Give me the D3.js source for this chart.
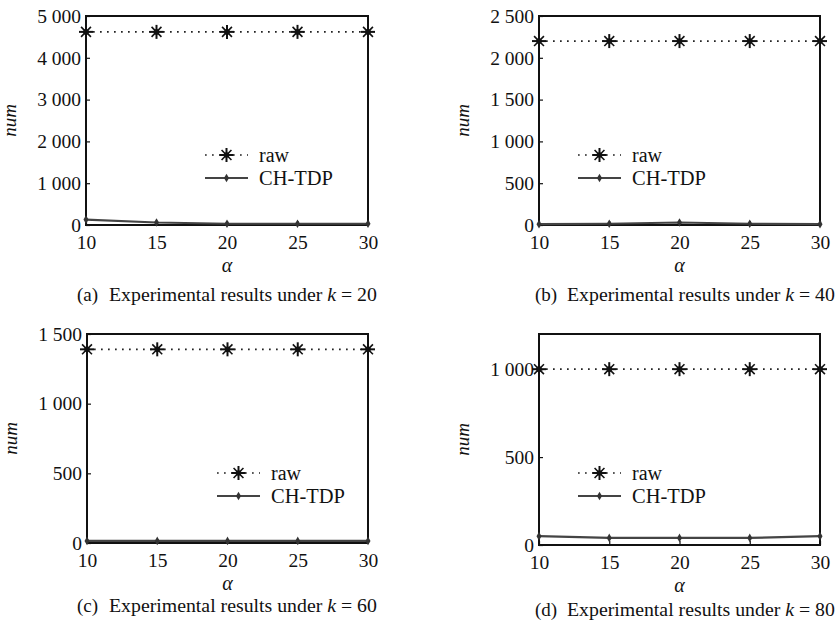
<!DOCTYPE html>
<html><head><meta charset="utf-8">
<script src="https://cdn.jsdelivr.net/npm/d3@7"></script>
<style>
body{margin:0;background:#fff;}
svg{display:block;}
svg text{font-family:"Liberation Serif","Times New Roman","DejaVu Serif",serif !important;fill:#111;}
</style></head>
<body>
<svg id="chart" width="838" height="627"></svg>
<script>
// ---- data ----
const alphas = [10, 15, 20, 25, 30];
const panelLabels = ["(a)", "(b)", "(c)", "(d)"];
const kValues = [20, 40, 60, 80];
const rawValues = [
  [4620, 4620, 4620, 4620, 4620],
  [2200, 2200, 2200, 2200, 2200],
  [1390, 1390, 1390, 1390, 1390],
  [1000, 1000, 1000, 1000, 1000]
];
const chtdpValues = [
  [130, 60, 30, 30, 30],
  [10, 15, 30, 15, 10],
  [15, 15, 15, 15, 15],
  [50, 40, 40, 40, 50]
];
const yMaxes = [5000, 2500, 1500, 1200];
const yTickValues = [
  [0, 1000, 2000, 3000, 4000, 5000],
  [0, 500, 1000, 1500, 2000, 2500],
  [0, 500, 1000, 1500],
  [0, 500, 1000]
];
const xTickValues = [10, 15, 20, 25, 30];
const seriesNames = ["raw", "CH-TDP"];

// ---- layout ----
const frames = [
  {x0: 86, x1: 368, y0: 16, y1: 225, legX: 205, legY: 155, capX: 77, capY: 294},
  {x0: 539, x1: 820, y0: 16, y1: 225, legX: 578, legY: 155, capX: 535, capY: 294},
  {x0: 87, x1: 368, y0: 334, y1: 543, legX: 217, legY: 473, capX: 77, capY: 605},
  {x0: 539, x1: 820, y0: 334, y1: 545, legX: 578, legY: 473, capX: 535, capY: 609}
];
const SERIF = "'Liberation Serif','Times New Roman','DejaVu Serif',serif";

const svg = d3.select("#chart");
const fmt = d => d3.format(",")(d).replace(/,/g, " ");

function star(g, x, y) {
  const r = 7;
  const s = g.append("g").attr("transform", `translate(${x},${y})`);
  [0, 45, 90, 135].forEach(a => {
    const rad = a * Math.PI / 180;
    s.append("line")
      .attr("x1", -r * Math.cos(rad)).attr("y1", -r * Math.sin(rad))
      .attr("x2", r * Math.cos(rad)).attr("y2", r * Math.sin(rad))
      .attr("stroke", "#111").attr("stroke-width", a % 90 === 0 ? 2 : 1.6);
  });
  s.append("circle").attr("r", 2.8).attr("fill", "#111");
}
function diamond(g, x, y) {
  g.append("path")
    .attr("d", d3.symbol(d3.symbolDiamond, 22)())
    .attr("transform", `translate(${x},${y})`)
    .attr("fill", "#333");
}
function fitWidth(sel, target) {
  const fs = parseFloat(sel.style("font-size"));
  const w = sel.node().getComputedTextLength();
  if (w > 0) sel.style("font-size", (fs * target / w) + "px");
}

frames.forEach((f, i) => {
  const g = svg.append("g").attr("font-family", SERIF);
  const x = d3.scaleLinear().domain([10, 30]).range([f.x0, f.x1]);
  const y = d3.scaleLinear().domain([0, yMaxes[i]]).range([f.y1, f.y0]);

  // axes
  const ya = g.append("g").attr("transform", `translate(${f.x0},0)`)
    .call(d3.axisLeft(y).tickValues(yTickValues[i]).tickSize(-4).tickPadding(5).tickFormat(fmt));
  ya.attr("font-family", SERIF);
  ya.select(".domain").remove();
  ya.selectAll("text").style("font-size", "19.5px");
  ya.selectAll("line").attr("stroke", "#111").attr("stroke-width", 1.2);

  const xa = g.append("g").attr("transform", `translate(0,${f.y1})`)
    .call(d3.axisBottom(x).tickValues(xTickValues).tickSize(-4).tickPadding(10));
  xa.attr("font-family", SERIF);
  xa.select(".domain").remove();
  xa.selectAll("text").style("font-size", "19.5px");
  xa.selectAll("line").attr("stroke", "#111").attr("stroke-width", 1.2);

  // frame
  g.append("rect").attr("x", f.x0).attr("y", f.y0)
    .attr("width", f.x1 - f.x0).attr("height", f.y1 - f.y0)
    .attr("fill", "none").attr("stroke", "#111").attr("stroke-width", 2);

  // axis titles
  g.append("text").attr("x", (f.x0 + f.x1) / 2).attr("y", f.y1 + 47)
    .attr("text-anchor", "middle").style("font-size", "20px").style("font-style", "italic")
    .text("α");
  g.append("text")
    .attr("transform", `translate(${f.x0 - 70},${(f.y0 + f.y1) / 2}) rotate(-90)`)
    .attr("text-anchor", "middle").style("font-size", "19px").style("font-style", "italic")
    .text("num");

  // series lines
  const line = d3.line().x((d, j) => x(alphas[j])).y(d => y(d));
  g.append("path").datum(rawValues[i]).attr("d", line)
    .attr("fill", "none").attr("stroke", "#222").attr("stroke-width", 1.7)
    .attr("stroke-dasharray", "1.7,5.3");
  g.append("path").datum(chtdpValues[i]).attr("d", line)
    .attr("fill", "none").attr("stroke", "#444").attr("stroke-width", 2.2);
  rawValues[i].forEach((v, j) => star(g, x(alphas[j]), y(v)));
  chtdpValues[i].forEach((v, j) => diamond(g, x(alphas[j]), y(v)));

  // legend
  const lx0 = f.legX, lx1 = f.legX + 43;
  g.append("line").attr("x1", lx0).attr("x2", lx1).attr("y1", f.legY).attr("y2", f.legY)
    .attr("stroke", "#222").attr("stroke-width", 1.7).attr("stroke-dasharray", "1.7,5.3");
  star(g, (lx0 + lx1) / 2, f.legY);
  g.append("line").attr("x1", lx0).attr("x2", lx1).attr("y1", f.legY + 23).attr("y2", f.legY + 23)
    .attr("stroke", "#444").attr("stroke-width", 2.2);
  diamond(g, (lx0 + lx1) / 2, f.legY + 23);
  seriesNames.forEach((n, j) => {
    const t = g.append("text").attr("x", lx1 + 11).attr("y", f.legY + 23 * j)
      .attr("dy", "0.35em").style("font-size", "20px").text(n);
    if (j === 1) fitWidth(t, 74);
  });

  // caption
  g.append("text").attr("x", f.capX).attr("y", f.capY).attr("dy", "0.35em")
    .style("font-size", "19px").text(panelLabels[i]);
  const cap = g.append("text").attr("x", f.capX + 32).attr("y", f.capY).attr("dy", "0.35em")
    .style("font-size", "19px");
  cap.append("tspan").text("Experimental results under ");
  cap.append("tspan").style("font-style", "italic").text("k");
  cap.append("tspan").text(" = " + kValues[i]);
  fitWidth(cap, 268);
});
</script>
</body></html>
